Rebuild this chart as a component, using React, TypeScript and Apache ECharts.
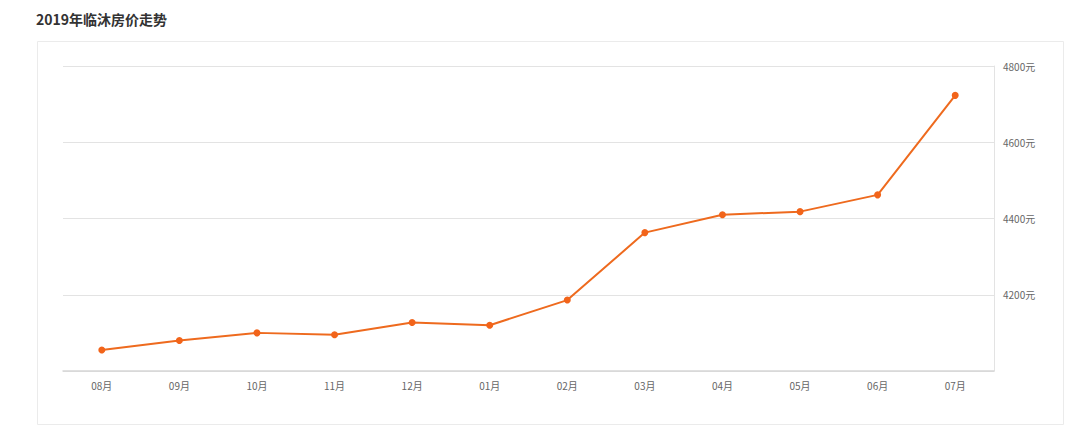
import React, { useEffect, useRef } from "react";
import * as echarts from "echarts";

const TITLE = "2019年临沐房价走势";
const categories = ["08月", "09月", "10月", "11月", "12月", "01月", "02月", "03月", "04月", "05月", "06月", "07月"];
const prices = [4055, 4080, 4100, 4095, 4127, 4120, 4186, 4363, 4410, 4418, 4462, 4723];
const yMin = 4000;
const yMax = 4800;
const yStep = 200;
const unit = "元";

const FONT = "'Noto Sans CJK SC', 'Noto Sans', sans-serif";

export default function App() {
  const ref = useRef<HTMLDivElement>(null);
  useEffect(() => {
    if (!ref.current) return;
    const chart = echarts.init(ref.current, undefined, { renderer: "svg" });
    chart.setOption({
      animation: false,
      textStyle: { fontFamily: FONT },
      title: {
        text: TITLE,
        left: 36,
        top: 12,
        padding: 0,
        textStyle: { fontSize: 14, fontWeight: "bold", color: "#333", fontFamily: FONT },
      },
      graphic: [
        {
          type: "rect",
          shape: { x: 37.5, y: 41.5, width: 1026, height: 383 },
          style: { fill: "none", stroke: "#ebebeb", lineWidth: 1 },
          silent: true,
          z: -1,
        },
      ],
      grid: { left: 63, right: 86, top: 66, bottom: 71 },
      xAxis: {
        type: "category",
        data: categories,
        boundaryGap: true,
        axisLine: { lineStyle: { color: "#d6d6d6", width: 1.5 } },
        axisTick: { alignWithLabel: true, length: 4, lineStyle: { color: "#d6d6d6" } },
        axisLabel: { color: "#666", fontSize: 10, margin: 9, fontFamily: FONT },
        splitLine: { show: false },
      },
      yAxis: {
        type: "value",
        position: "right",
        min: yMin,
        max: yMax,
        interval: yStep,
        axisLine: { show: true, lineStyle: { color: "#e3e3e3" } },
        axisTick: { show: false },
        axisLabel: {
          color: "#666",
          fontSize: 10,
          margin: 9,
          showMinLabel: false,
          fontFamily: FONT,
          formatter: (v: number) => v + unit,
        },
        splitLine: { lineStyle: { color: "#e3e3e3" } },
      },
      series: [
        {
          type: "line",
          data: prices,
          symbol: "circle",
          symbolSize: 7,
          lineStyle: { color: "#ee6a1e", width: 2 },
          itemStyle: { color: "#f2641a" },
        },
      ],
    });
    return () => chart.dispose();
  }, []);
  return (
    <div
      ref={ref}
      style={{ position: "fixed", left: 0, top: 0, width: 1080, height: 442, background: "#fff" }}
    />
  );
}
